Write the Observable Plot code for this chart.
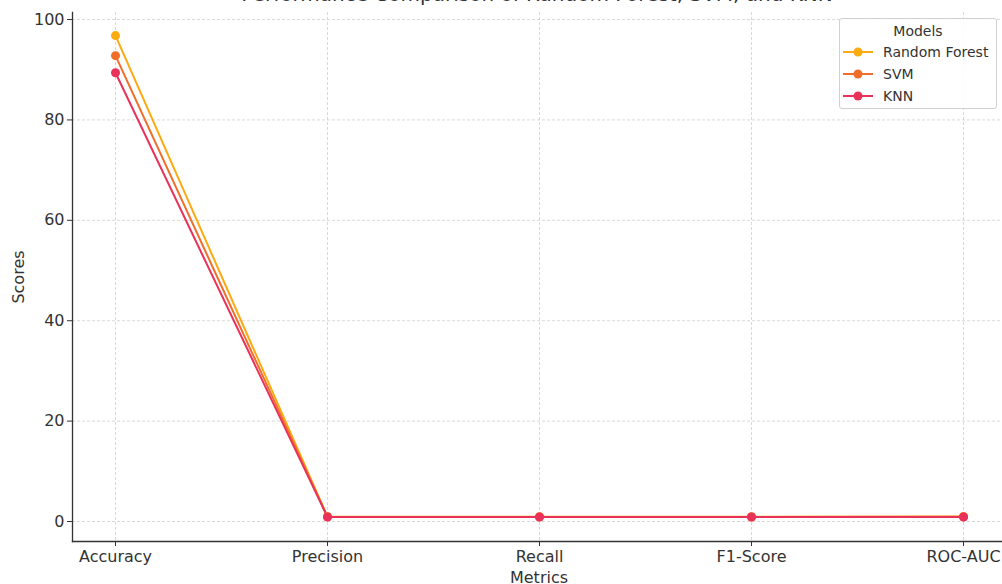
<!DOCTYPE html>
<html>
<head>
<meta charset="utf-8">
<script src="https://cdn.jsdelivr.net/npm/d3@7"></script>
<script src="https://cdn.jsdelivr.net/npm/@observablehq/plot@0.6"></script>
<style>
  html, body { margin: 0; padding: 0; background: #fff; overflow: hidden; }
  #wrap { position: relative; width: 1002px; height: 584px; font-family: "DejaVu Sans", sans-serif; }
  #title { position: absolute; left: 72px; width: 930px; top: -16px; text-align: center;
           font-size: 20px; line-height: 20px; color: #333; white-space: nowrap; }
  #legend { position: absolute; left: 839px; top: 18px; width: 158px; height: 91px;
            border: 1px solid #d0d0d0; border-radius: 3px; background: rgba(255,255,255,0.85);
            font-size: 14px; color: #333; box-sizing: border-box; }
  #legend .lt { text-align: center; margin-top: 2px; height: 20px; line-height: 20px; }
  #legend .row { display: flex; align-items: center; height: 22px; }
  #legend svg { margin-left: 3px; margin-right: 10px; }
</style>
</head>
<body>
<div id="wrap">
  <div id="chart"></div>
  <div id="title">Performance Comparison of Random Forest, SVM, and KNN</div>
  <div id="legend"></div>
</div>
<script>
const metrics = ["Accuracy", "Precision", "Recall", "F1-Score", "ROC-AUC"];
const models = ["Random Forest", "SVM", "KNN"];
const colors = ["#fbaa0f", "#f06e2a", "#e8325a"];
const rfScores = [96.8, 0.97, 0.96, 0.96, 0.98];
const svmScores = [92.8, 0.93, 0.92, 0.92, 0.95];
const knnScores = [89.4, 0.90, 0.89, 0.89, 0.91];
const yTicks = [0, 20, 40, 60, 80, 100];

const series = [rfScores, svmScores, knnScores];
const data = [];
models.forEach((m, i) => metrics.forEach((k, j) => data.push({model: m, metric: k, score: series[i][j]})));

const plot = Plot.plot({
  width: 1002,
  height: 584,
  marginTop: 12,
  marginBottom: 43,
  marginLeft: 72,
  marginRight: -3,
  style: {fontFamily: "DejaVu Sans, sans-serif", fontSize: "16px", color: "#333", background: "#fff"},
  x: {type: "point", domain: metrics, padding: 0.2},
  y: {domain: [-3.98, 101.4]},
  color: {domain: models, range: colors},
  marks: [
    Plot.gridY(yTicks, {stroke: "#c8c8c8", strokeOpacity: 1, strokeDasharray: "3,2", strokeWidth: 0.7}),
    Plot.gridX(metrics, {stroke: "#c8c8c8", strokeOpacity: 1, strokeDasharray: "3,2", strokeWidth: 0.7}),
    Plot.frame({anchor: "left", stroke: "#333", strokeWidth: 1.3}),
    Plot.frame({anchor: "bottom", stroke: "#333", strokeWidth: 1.3}),
    Plot.axisY(yTicks, {tickSize: 5, tickPadding: 3, stroke: "#333", fill: "#333",
      label: "Scores", labelAnchor: "center", labelArrow: "none", labelOffset: 60, fontSize: 16}),
    Plot.axisX(metrics, {tickSize: 5, tickPadding: 4, stroke: "#333", fill: "#333",
      label: "Metrics", labelAnchor: "center", labelArrow: "none", labelOffset: 41, fontSize: 16}),
    Plot.line(data, {x: "metric", y: "score", z: "model", stroke: "model", strokeWidth: 2}),
    Plot.dot(data, {x: "metric", y: "score", fill: "model", r: 4.5})
  ]
});
document.getElementById("chart").appendChild(plot);

const legend = document.getElementById("legend");
const lt = document.createElement("div");
lt.className = "lt";
lt.textContent = "Models";
legend.appendChild(lt);
models.forEach((m, i) => {
  const row = document.createElement("div");
  row.className = "row";
  row.innerHTML = `<svg width="30" height="10"><line x1="0" y1="5" x2="30" y2="5" stroke="${colors[i]}" stroke-width="2"/><circle cx="15" cy="5" r="4.5" fill="${colors[i]}"/></svg><span>${m}</span>`;
  legend.appendChild(row);
});
</script>
</body>
</html>
